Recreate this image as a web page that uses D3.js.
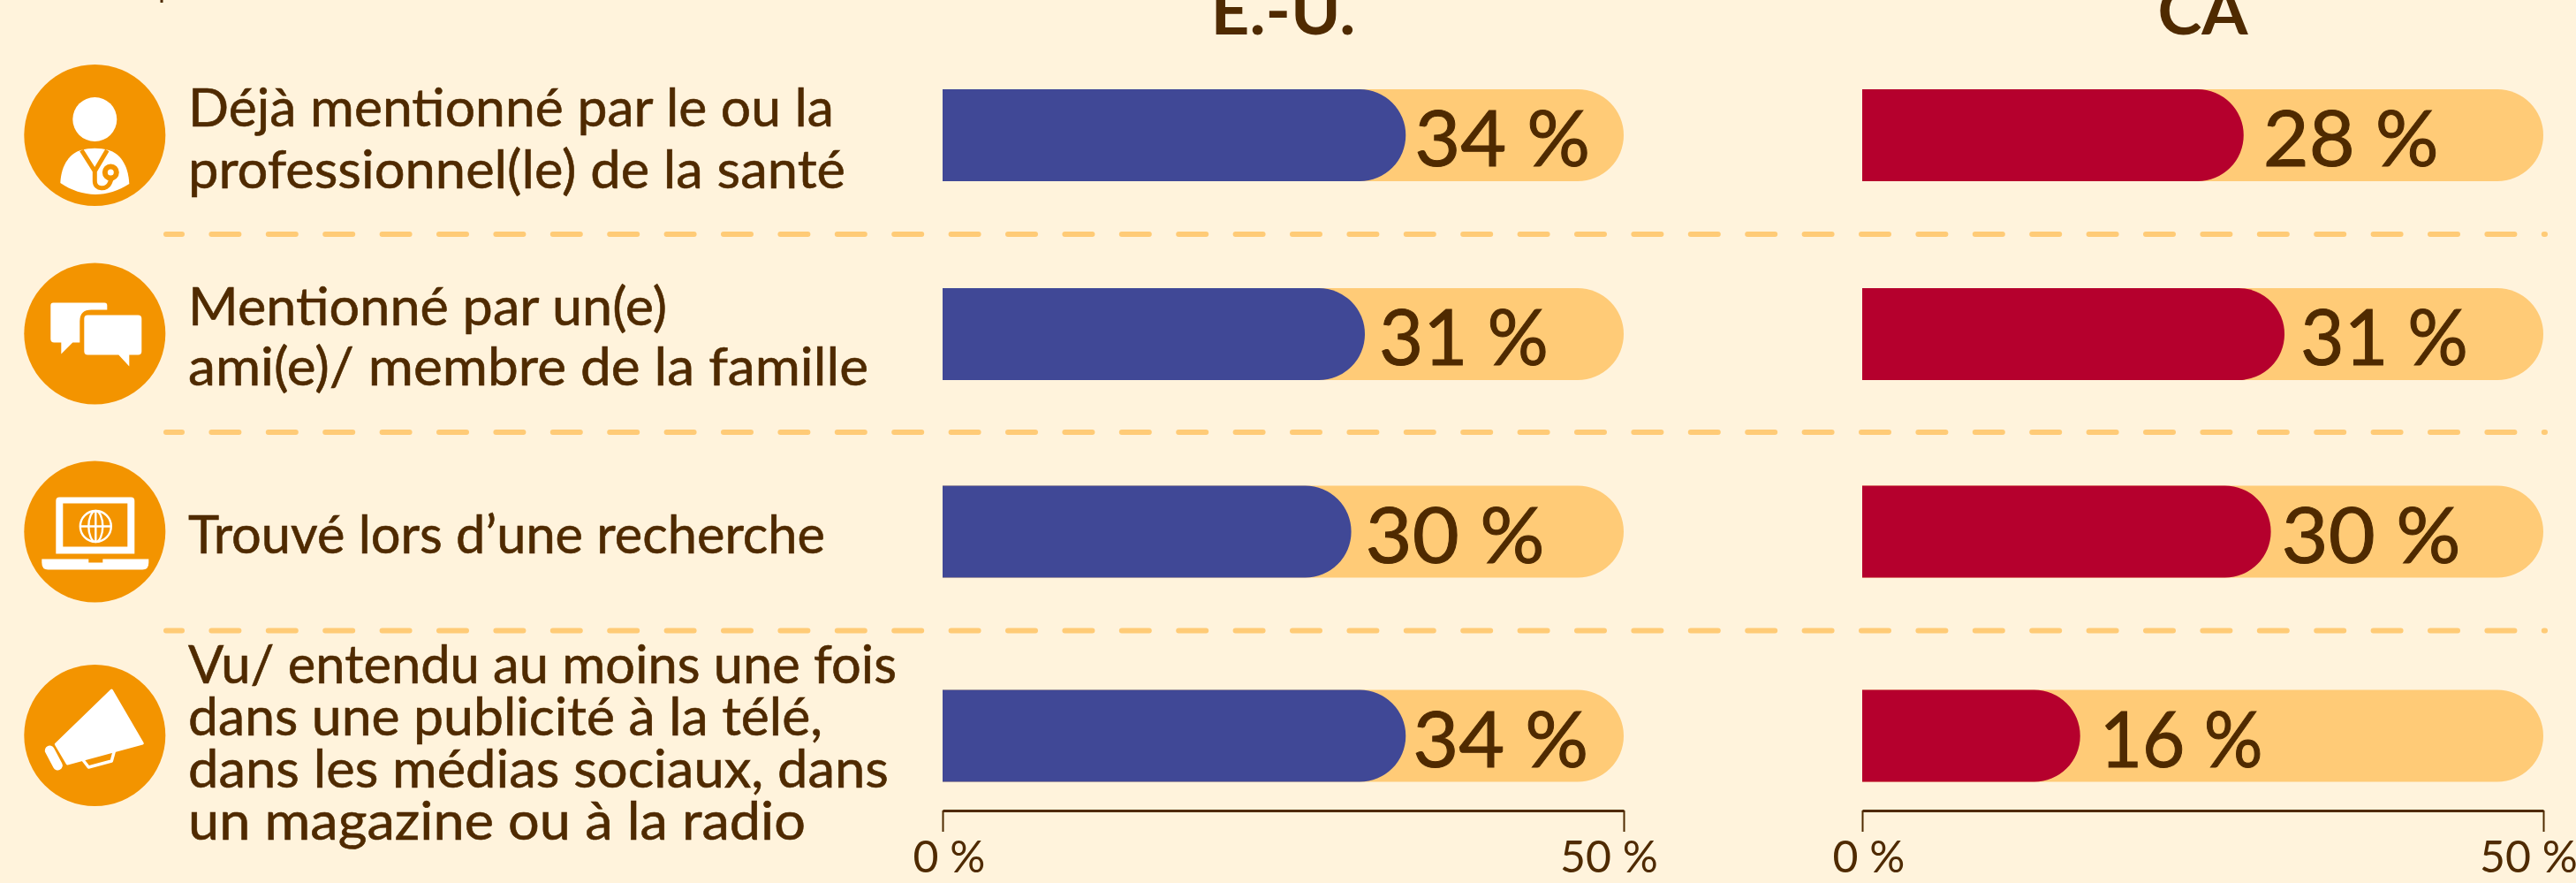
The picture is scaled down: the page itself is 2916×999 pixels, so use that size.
<!DOCTYPE html>
<html>
<head>
<meta charset="utf-8">
<script src="https://d3js.org/d3.v7.min.js"></script>
<style>
  html, body { margin: 0; padding: 0; background: #fff3dc; overflow: hidden; }
  text { font-family: Lato, sans-serif; fill: #4f2a00; }
</style>
</head>
<body>
<script>
// values
const categories = ['doctor', 'friend', 'search', 'ads'];
const labelLines = [
  ['Déjà mentionné par le ou la', 'professionnel(le) de la santé'],
  ['Mentionné par un(e)', 'ami(e)/ membre de la famille'],
  ['Trouvé lors d’une recherche'],
  ['Vu/ entendu au moins une fois', 'dans une publicité à la télé,', 'dans les médias sociaux, dans', 'un magazine ou à la radio']
];
const usValues = [34, 31, 30, 34];
const caValues = [28, 31, 30, 16];
const panelNames = ['E.-U.', 'CA'];
const axisTicks = [0, 50];

const WIDTH = 2916, HEIGHT = 999;
const BROWN = '#4f2a00', TRACK = '#ffcb77', ORANGE = '#f39400';

const SVG = d3.select('body').append('svg')
  .attr('width', WIDTH)
  .attr('height', HEIGHT)
  .style('display', 'block');

// rows
const rowY = d3.scaleOrdinal().domain(categories).range([153, 377.5, 601.5, 832]);
const barY = d3.scaleOrdinal().domain(categories).range([153, 378, 601.5, 832.5]);
const BAR_H = 104;
// baseline of each text line, per row
const lineY = [[143, 212.5], [367.5, 436], [626], [773, 832, 891, 949.5]];
// measured widths of the text lines in the reference
const lineW = [[731, 744], [542, 770], [721], [802, 718, 793, 699]];
// measured gap after the bar and width of each value label
const usLayout = { gap: [10, 16, 16, 8], width: [199, 192, 203, 199], title: 164 };
const caLayout = { gap: [22, 18, 12, 22], width: [199, 190, 203, 185], title: 102 };

// bit of a cut-off line above the chart
SVG.append('rect').attr('x', 181.5).attr('y', 0).attr('width', 3).attr('height', 3).attr('fill', BROWN);

// separators
[265, 489, 713.5].forEach(y => {
  SVG.append('line')
    .attr('x1', 188).attr('x2', 2881)
    .attr('y1', y).attr('y2', y)
    .attr('stroke', TRACK)
    .attr('stroke-width', 6)
    .attr('stroke-linecap', 'round')
    .attr('stroke-dasharray', '31 33.4')
    .attr('stroke-dashoffset', 13);
});

// bar open on the left, rounded on the right
function barPath(x0, x1, cy) {
  const r = BAR_H / 2;
  return `M${x0},${cy - r} H${x1 - r} A${r},${r} 0 0 1 ${x1 - r},${cy + r} H${x0} Z`;
}

function panel(name, values, color, left, right, layout) {
  const x = d3.scaleLinear().domain([0, 50]).range([left, right]);

  SVG.append('text')
    .attr('x', (left + right) / 2)
    .attr('y', 39)
    .attr('text-anchor', 'middle')
    .attr('font-size', 74)
    .attr('font-weight', 700)
    .attr('textLength', layout.title)
    .attr('lengthAdjust', 'spacingAndGlyphs')
    .text(name);

  const rows = SVG.append('g').selectAll('g')
    .data(categories)
    .join('g');

  rows.append('path')
    .attr('d', d => barPath(x(0), x(50), barY(d)))
    .attr('fill', TRACK);

  rows.append('path')
    .attr('d', (d, i) => barPath(x(0), x(values[i]), barY(d)))
    .attr('fill', color);

  rows.append('text')
    .attr('x', (d, i) => x(values[i]) + layout.gap[i])
    .attr('y', d => barY(d) + 35)
    .attr('font-size', 88)
    .attr('stroke', BROWN)
    .attr('stroke-width', 1)
    .attr('textLength', (d, i) => layout.width[i])
    .attr('lengthAdjust', 'spacingAndGlyphs')
    .text((d, i) => values[i] + ' %');

  const axis = d3.axisBottom(x)
    .tickValues(axisTicks)
    .tickSize(24)
    .tickSizeOuter(0)
    .tickFormat(d => d + ' %');

  const g = SVG.append('g')
    .attr('transform', 'translate(0,917)')
    .call(axis);
  g.select('.domain').attr('stroke', BROWN).attr('stroke-width', 3);
  g.selectAll('.tick line').attr('stroke', BROWN).attr('stroke-width', 2);
  g.selectAll('.tick text')
    .attr('font-size', 50)
    .attr('font-family', 'Lato, sans-serif')
    .attr('fill', BROWN)
    .attr('y', 70)
    .attr('dy', 0)
    .attr('dx', d => d === 0 ? 7 : -17);
}

panel(panelNames[0], usValues, '#404896', 1067, 1838, usLayout);
panel(panelNames[1], caValues, '#b5002d', 2108, 2879, caLayout);

// row labels
categories.forEach((c, i) => {
  labelLines[i].forEach((line, j) => {
    SVG.append('text')
      .attr('x', 213)
      .attr('y', lineY[i][j])
      .attr('font-size', 60)
      .attr('stroke', BROWN)
      .attr('stroke-width', 0.6)
      .attr('textLength', lineW[i][j])
      .attr('lengthAdjust', 'spacingAndGlyphs')
      .text(line);
  });
});

// icons, drawn around the centre of each disc
const icons = SVG.selectAll('.icon')
  .data(categories)
  .join('g')
  .attr('class', 'icon')
  .attr('transform', d => `translate(107.3,${rowY(d)})`);

icons.append('circle').attr('r', 80).attr('fill', ORANGE);

const doctor = icons.filter(d => d === 'doctor');
doctor.append('circle').attr('cy', -18).attr('r', 25).attr('fill', '#fff');
doctor.append('path').attr('fill', '#fff')
  .attr('d', 'M-39,54 C-38,32 -27,20 -16,17 C-5,14 5,14 16,17 C27,20 38,32 39,55 C14,71 -14,71 -39,54 Z');
doctor.append('path').attr('fill', 'none').attr('stroke', ORANGE).attr('stroke-width', 5)
  .attr('d', 'M-15,17 L-1,39 L1,39 L14,17 M0,38 V52 C0,62 14,62 17,54 L19,49');
doctor.append('circle').attr('cx', 18).attr('cy', 42).attr('r', 6.5)
  .attr('fill', '#fff').attr('stroke', ORANGE).attr('stroke-width', 6);

const friend = icons.filter(d => d === 'friend');
friend.append('path').attr('fill', '#fff')
  .attr('d', 'M-50,-32 Q-50,-35 -47,-35 H11 Q14,-35 14,-32 V-27 H-4 Q-17,-27 -17,-14 V10 H-25 L-38,23 V10 H-46 Q-50,10 -50,6 Z');
friend.append('path').attr('fill', '#fff')
  .attr('d', 'M-12,-17 Q-12,-21 -8,-21 H49 Q53,-21 53,-17 V20 Q53,24 49,24 H39 V37 L27,24 H-8 Q-12,24 -12,20 Z');

const search = icons.filter(d => d === 'search');
search.append('path').attr('fill', '#fff').attr('fill-rule', 'evenodd')
  .attr('d', 'M-44,-35 Q-44,-39 -40,-39 H41 Q45,-39 45,-35 V25 H-44 Z M-36,-32 V17 H37 V-32 Z');
search.append('path').attr('fill', '#fff')
  .attr('d', 'M-60,31 H-7 V35 H9 V31 H61 V35 Q61,43 54,43 H-53 Q-60,43 -60,35 Z');
search.append('g').attr('transform', 'translate(1,-6)')
  .attr('fill', 'none').attr('stroke', '#fff').attr('stroke-width', 2.4)
  .call(g => {
    g.append('circle').attr('r', 17.5);
    g.append('ellipse').attr('rx', 8).attr('ry', 17.5);
    g.append('path').attr('d', 'M-17.5,0 H17.5 M0,-17.5 V17.5');
  });

const ads = icons.filter(d => d === 'ads');
ads.append('path').attr('fill', '#fff').attr('stroke', '#fff').attr('stroke-width', 3).attr('stroke-linejoin', 'round')
  .attr('d', 'M-44,10 L19,-51 L54,9 L-31,32 Z');
ads.append('path').attr('fill', 'none').attr('stroke', '#fff').attr('stroke-width', 3.5).attr('stroke-linejoin', 'round')
  .attr('d', 'M-14,27 L-7,36 L19,29 L22,18');
ads.append('line').attr('x1', -51).attr('y1', 17).attr('x2', -42).attr('y2', 34)
  .attr('stroke', '#fff').attr('stroke-width', 11).attr('stroke-linecap', 'round');
</script>
</body>
</html>
